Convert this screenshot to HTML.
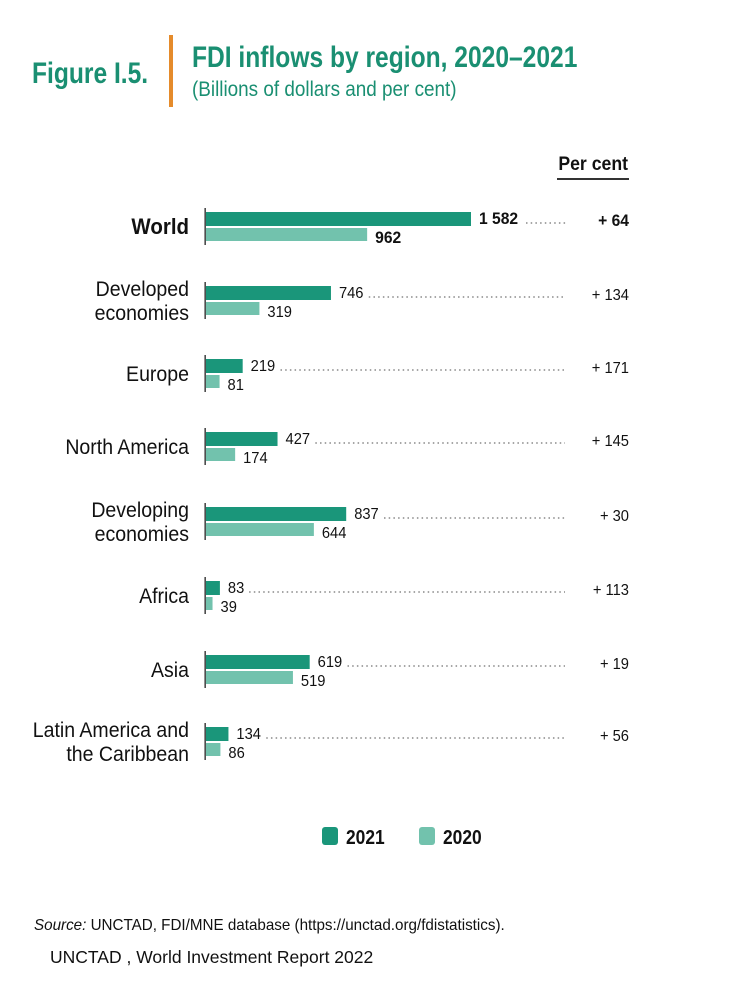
<!DOCTYPE html>
<html><head><meta charset="utf-8"><style>
body{margin:0;background:#fff;}
svg{display:block;font-family:"Liberation Sans",sans-serif;}
</style></head><body>
<svg id="chart" width="750" height="1002" viewBox="0 0 750 1002">
<text x="32" y="83" font-size="30" font-weight="bold" fill="#1a8f72" transform="translate(32,0) scale(0.82,1) translate(-32,0)">Figure I.5.</text>
<rect x="169" y="35" width="4" height="72" fill="#e58b2b"/>
<text x="192" y="67" font-size="30" font-weight="bold" fill="#1a8f72" transform="translate(192,0) scale(0.82,1) translate(-192,0)">FDI inflows by region, 2020–2021</text>
<text x="192" y="96" font-size="21" fill="#1a8f72" transform="translate(192,0) scale(0.9,1) translate(-192,0)">(Billions of dollars and per cent)</text>
<text x="628" y="170" font-size="19" font-weight="bold" text-anchor="end" fill="#111" transform="translate(628,0) scale(0.93,1) translate(-628,0)">Per cent</text>
<rect x="557" y="178" width="72" height="2" fill="#333"/>
<g id="rows"></g>
<g>
<rect x="322" y="827" width="16" height="18" rx="3" fill="#1a967a"/>
<text x="346" y="844" font-size="20" font-weight="bold" fill="#111" transform="translate(346,0) scale(0.87,1) translate(-346,0)">2021</text>
<rect x="419" y="827" width="16" height="18" rx="3" fill="#72c2ad"/>
<text x="443" y="844" font-size="20" font-weight="bold" fill="#111" transform="translate(443,0) scale(0.87,1) translate(-443,0)">2020</text>
</g>
<text x="34" y="930" font-size="16" fill="#111" transform="translate(34,0) scale(0.95,1) translate(-34,0)"><tspan font-style="italic">Source:</tspan>  UNCTAD, FDI/MNE database (https://unctad.org/fdistatistics).</text>
<text x="50" y="963" font-size="17.5" fill="#111">UNCTAD , World Investment Report 2022</text>
</svg>
<script>
const categories = [["World"],["Developed","economies"],["Europe"],["North America"],["Developing","economies"],["Africa"],["Asia"],["Latin America and","the Caribbean"]];
const values2021 = [1582,746,219,427,837,83,619,134];
const values2020 = [962,319,81,174,644,39,519,86];
const valueLabels2021 = ["1 582","746","219","427","837","83","619","134"];
const valueLabels2020 = ["962","319","81","174","644","39","519","86"];
const percentLabels = ["+ 64","+ 134","+ 171","+ 145","+ 30","+ 113","+ 19","+ 56"];

const NS="http://www.w3.org/2000/svg";
const g=document.getElementById('rows');
const x0=206, kx=265/1582;
function xs(v){return x0+v*kx;}
const rowY=[227,301,374,447,522,596,670,742];
function mk(tag,attrs){const e=document.createElementNS(NS,tag);for(const k in attrs)e.setAttribute(k,attrs[k]);g.appendChild(e);return e;}
function sx(e,x,s){e.setAttribute('transform',`translate(${x},0) scale(${s},1) translate(${-x},0)`);}
categories.forEach((cat,i)=>{
  const cy=rowY[i], world=i===0;
  const ax=mk('rect',{x:204.5,y:cy-19,width:1.3,height:37,fill:'#222'});
  
  
  const b1=mk('rect',{x:x0,y:cy-15,width:values2021[i]*kx,height:14,fill:'#1a967a'});
  
  
  const b2=mk('rect',{x:x0,y:cy+1,width:values2020[i]*kx,height:13,fill:'#72c2ad'});
  
  
  const fs=world?17:16, fw=world?'bold':'normal';
  const lx=xs(values2021[i])+8;
  const t1=mk('text',{x:lx,y:cy-3,'font-size':fs,'font-weight':fw,fill:'#111'});
  t1.textContent=valueLabels2021[i];sx(t1,lx,0.92);
  
  
  const lx2=xs(values2020[i])+8;
  const t2=mk('text',{x:lx2,y:cy+16,'font-size':fs,'font-weight':fw,fill:'#111'});
  t2.textContent=valueLabels2020[i];sx(t2,lx2,0.92);
  
  
  const dStart=lx+valueLabels2021[i].length*8.6+4;
  const dl=mk('line',{x1:dStart,y1:cy-4,x2:world?568:565,y2:cy-4,stroke:'#888','stroke-width':1.5,'stroke-dasharray':'1.5 3.2'});
  
  
  const p=mk('text',{x:629,y:cy-1,'font-size':fs,'font-weight':fw,'text-anchor':'end',fill:'#111'});
  p.textContent=percentLabels[i];sx(p,629,0.92);
  
  
  cat.forEach((ln,j)=>{
    const y= cat.length===1 ? cy+7 : cy-5+j*24;
    const c=mk('text',{x:189,y:y,'font-size':world?22:21,'font-weight':fw,'text-anchor':'end',fill:'#111'});
    c.textContent=ln;sx(c,189,0.93);
    
    
  });
});
</script>
</body></html>
